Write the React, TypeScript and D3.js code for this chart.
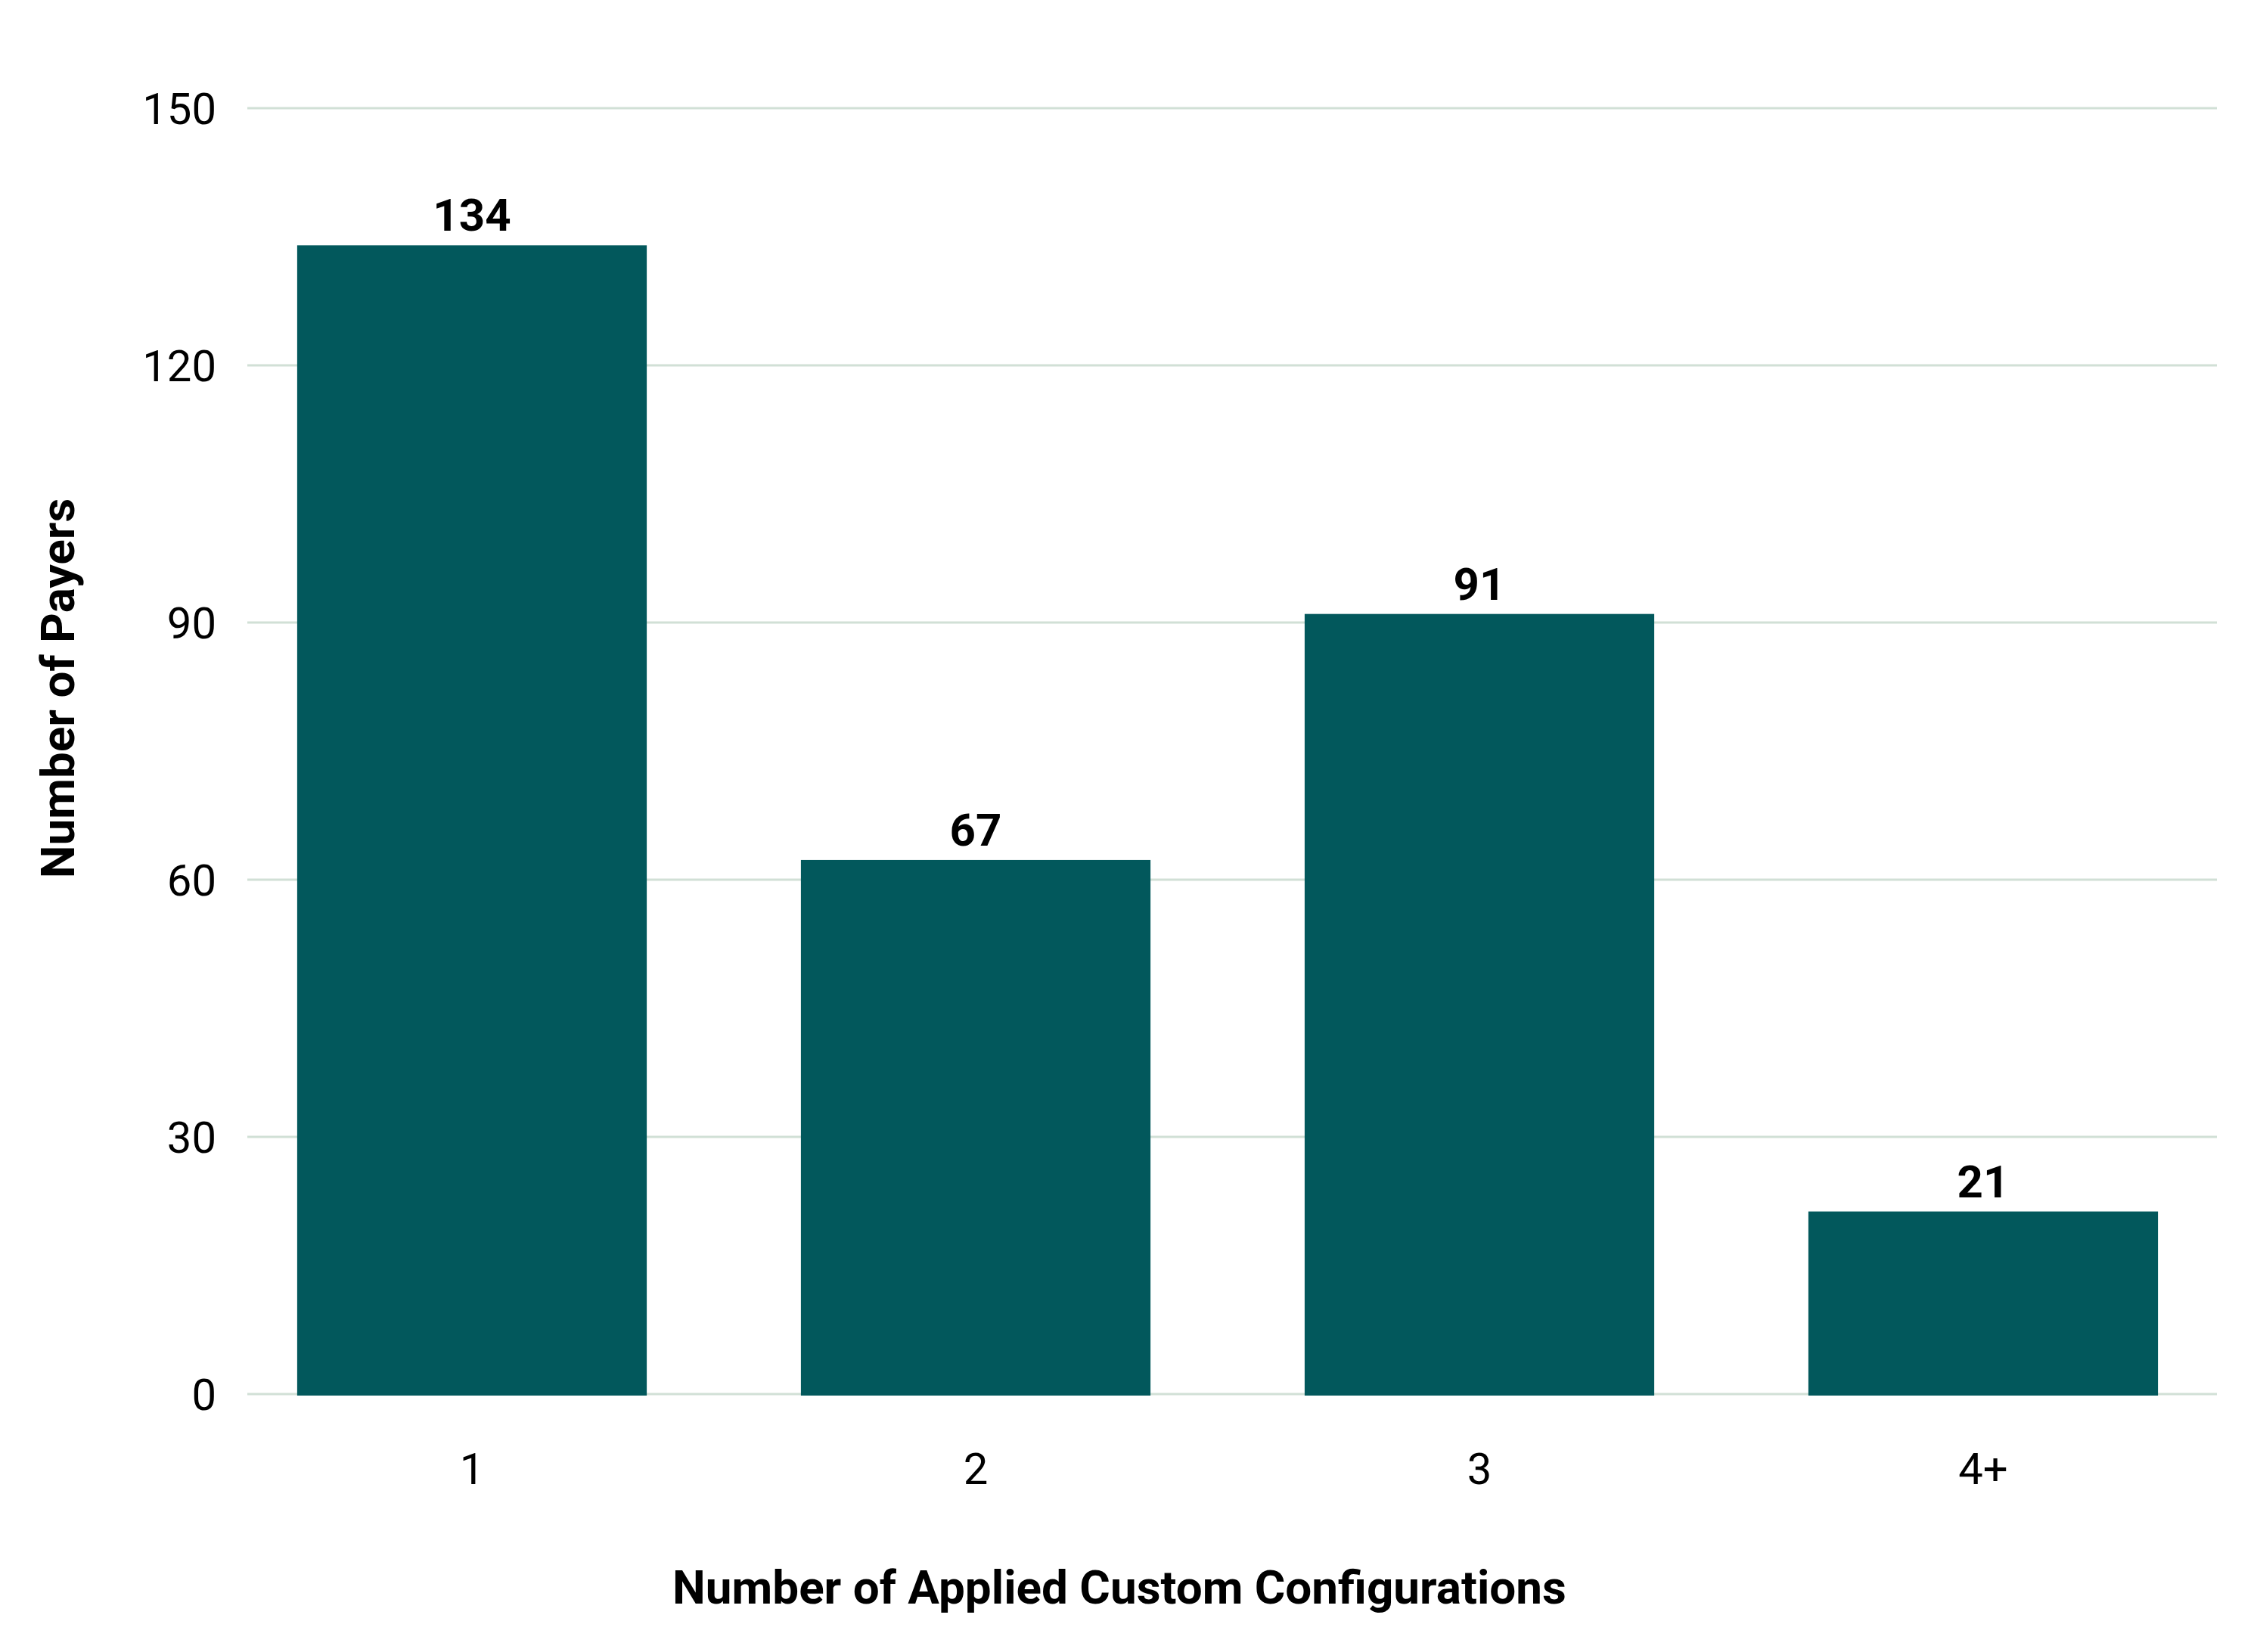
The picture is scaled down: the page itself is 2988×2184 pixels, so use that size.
import React, { useEffect, useRef } from 'react';
import * as d3 from 'd3';

// data
const categories = ['1', '2', '3', '4+'];
const payers = [134, 62.3, 91, 21.3]; // drawn bar heights
const valueLabels = ['134', '67', '91', '21']; // printed labels
const yTicks = [0, 30, 60, 90, 120, 150];

const WIDTH = 2988;
const HEIGHT = 2184;
const BAR_COLOR = '#02585c';
const GRID_COLOR = '#d1e0d6';
const FONT = 'Roboto, "Noto Sans", sans-serif';

const App: React.FC = () => {
  const svgRef = useRef<SVGSVGElement>(null);

  useEffect(() => {
    if (!svgRef.current) return;
    const svg = d3.select(svgRef.current);
    svg.selectAll('*').remove();

    const plot = { left: 327, right: 2931, top: 143, bottom: 1843 };

    const xScale = d3
      .scaleBand()
      .domain(categories)
      .range([291, 2955])
      .paddingInner(0.306)
      .paddingOuter(0.153);

    const yScale = d3.scaleLinear().domain([0, 150]).range([plot.bottom, plot.top]);

    // Grid lines
    svg
      .append('g')
      .selectAll('line')
      .data(yTicks)
      .join('line')
      .attr('x1', plot.left)
      .attr('x2', plot.right)
      .attr('y1', (d) => yScale(d))
      .attr('y2', (d) => yScale(d))
      .attr('stroke', GRID_COLOR)
      .attr('stroke-width', 3);

    // Y tick labels
    svg
      .append('g')
      .selectAll('text')
      .data(yTicks)
      .join('text')
      .attr('x', 286)
      .attr('y', (d) => yScale(d))
      .attr('dy', '0.36em')
      .attr('text-anchor', 'end')
      .attr('font-family', FONT)
      .attr('font-size', 58)
      .attr('fill', '#000')
      .text((d) => String(d));

    // Bars
    svg
      .append('g')
      .selectAll('rect')
      .data(payers)
      .join('rect')
      .attr('x', (_, i) => xScale(categories[i]) || 0)
      .attr('y', (d) => yScale(d))
      .attr('width', xScale.bandwidth())
      .attr('height', (d) => yScale(0) - yScale(d) + 2)
      .attr('fill', BAR_COLOR);

    // Value labels
    svg
      .append('g')
      .selectAll('text')
      .data(payers)
      .join('text')
      .attr('x', (_, i) => (xScale(categories[i]) || 0) + xScale.bandwidth() / 2)
      .attr('y', (d) => yScale(d) - 19)
      .attr('text-anchor', 'middle')
      .attr('font-family', FONT)
      .attr('font-weight', 'bold')
      .attr('font-size', 60)
      .attr('fill', '#000')
      .text((_, i) => valueLabels[i]);

    // X tick labels
    svg
      .append('g')
      .selectAll('text')
      .data(categories)
      .join('text')
      .attr('x', (d) => (xScale(d) || 0) + xScale.bandwidth() / 2)
      .attr('y', 1962)
      .attr('text-anchor', 'middle')
      .attr('font-family', FONT)
      .attr('font-size', 58)
      .attr('fill', '#000')
      .text((d) => d);

    // Axis titles
    svg
      .append('text')
      .attr('x', 1480)
      .attr('y', 2120)
      .attr('text-anchor', 'middle')
      .attr('font-family', FONT)
      .attr('font-weight', 'bold')
      .attr('font-size', 62)
      .attr('fill', '#000')
      .text('Number of Applied Custom Configurations');

    svg
      .append('text')
      .attr('transform', 'translate(98, 910) rotate(-90)')
      .attr('text-anchor', 'middle')
      .attr('font-family', FONT)
      .attr('font-weight', 'bold')
      .attr('font-size', 62)
      .attr('fill', '#000')
      .text('Number of Payers');
  }, []);

  return (
    <svg
      ref={svgRef}
      width={WIDTH}
      height={HEIGHT}
      style={{ position: 'absolute', left: 0, top: 0, background: '#fff' }}
    />
  );
};

export default App;
